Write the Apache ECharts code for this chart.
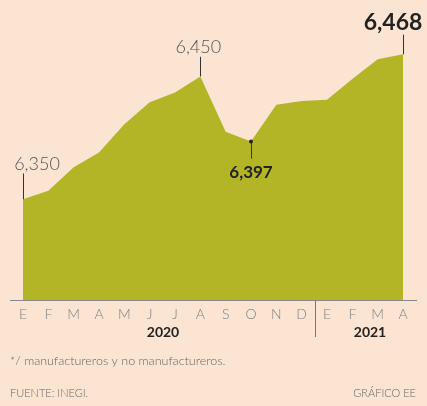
<!DOCTYPE html>
<html>
<head>
<meta charset="utf-8">
<script src="https://cdn.jsdelivr.net/npm/echarts@6/dist/echarts.min.js"></script>
<style>
  html, body { margin: 0; padding: 0; background: #fce4d3; }
  #root { width: 427px; height: 406px; }
</style>
</head>
<body>
<div id="root"></div>
<script>
// meses (ene 2020 - abr 2021)
const months = ['E', 'F', 'M', 'A', 'M', 'J', 'J', 'A', 'S', 'O', 'N', 'D', 'E', 'F', 'M', 'A'];
const values = [6350, 6357, 6376, 6388, 6411, 6429, 6437, 6450, 6405, 6397, 6427, 6430, 6431, 6448, 6464, 6468];
const years = ['2020', '2021'];
const note = '*/ manufactureros y no manufactureros.';
const source = 'FUENTE: INEGI.';
const credit = 'GRÁFICO EE';

const FONT = 'Lato';

// etiquetas destacadas
const callouts = {
  0: { position: 'top', distance: 26, offset: [14, 0], fontSize: 18, color: '#555', fontWeight: 300 },
  7: { position: 'top', distance: 20, offset: [-2, 0], fontSize: 18, color: '#555', fontWeight: 300 },
  9: { position: 'bottom', distance: 22, fontSize: 17, color: '#222', fontWeight: 'bold' },
  15: { position: 'top', distance: 20, offset: [-10, 0], fontSize: 23, color: '#222', fontWeight: 'bold' }
};

const seriesData = values.map((v, i) => callouts[i]
  ? { value: v, label: Object.assign({ show: true, fontFamily: FONT, formatter: p => p.value.toLocaleString('en-US') }, callouts[i]) }
  : v);

// líneas guía (en coordenadas de datos)
const guides = [
  [0, 21], [7, 16], [9, -14], [15, 16]
].map(([i, d]) => [
  { coord: [i, values[i]] },
  { coord: [i, values[i] + d] }
]);

let myChart = echarts.init(document.querySelector('#root'));

let option = {
  backgroundColor: '#fce4d3',
  animation: false,
  grid: { left: 23, right: 24, top: 15, bottom: 106 },
  xAxis: {
    type: 'category',
    data: months,
    boundaryGap: false,
    axisLine: { show: false },
    axisTick: { show: false },
    axisLabel: { color: '#808080', fontSize: 14, fontFamily: FONT, fontWeight: 300, margin: 7 }
  },
  yAxis: {
    type: 'value',
    min: 6268,
    max: 6500,
    show: false
  },
  series: [{
    type: 'line',
    data: seriesData,
    symbol: 'circle',
    symbolSize: 0.1,
    showAllSymbol: true,
    itemStyle: { color: 'rgba(0,0,0,0)' },
    label: { show: false },
    lineStyle: { width: 0 },
    areaStyle: { color: '#b3b526', opacity: 1 },
    markLine: {
      silent: true,
      symbol: ['none', 'none'],
      label: { show: false },
      lineStyle: { color: '#333', width: 1, type: 'solid' },
      data: guides
    },
    markPoint: {
      silent: true,
      symbol: 'circle',
      symbolSize: 4,
      itemStyle: { color: '#222' },
      label: { show: false },
      data: [{ coord: [9, values[9]] }]
    }
  }],
  graphic: [
    { type: 'line', shape: { x1: 10, y1: 300.5, x2: 417, y2: 300.5 }, style: { stroke: '#888', lineWidth: 1 } },
    { type: 'line', shape: { x1: 315.5, y1: 300, x2: 315.5, y2: 337 }, style: { stroke: '#777', lineWidth: 1 } },
    { type: 'text', x: 163, y: 332, style: { text: years[0], fill: '#222', font: 'bold 14px ' + FONT, textAlign: 'center', textVerticalAlign: 'middle' } },
    { type: 'text', x: 370, y: 332, style: { text: years[1], fill: '#222', font: 'bold 14px ' + FONT, textAlign: 'center', textVerticalAlign: 'middle' } },
    { type: 'text', x: 10, y: 361, style: { text: note, fill: '#666', font: '300 12.5px ' + FONT, textVerticalAlign: 'middle' } },
    { type: 'text', x: 10, y: 393, style: { text: source, fill: '#666', font: '300 11px ' + FONT, textVerticalAlign: 'middle' } },
    { type: 'text', x: 416, y: 393, style: { text: credit, fill: '#666', font: '300 11px ' + FONT, textAlign: 'right', textVerticalAlign: 'middle' } }
  ]
};

myChart.setOption(option);
</script>
</body>
</html>
